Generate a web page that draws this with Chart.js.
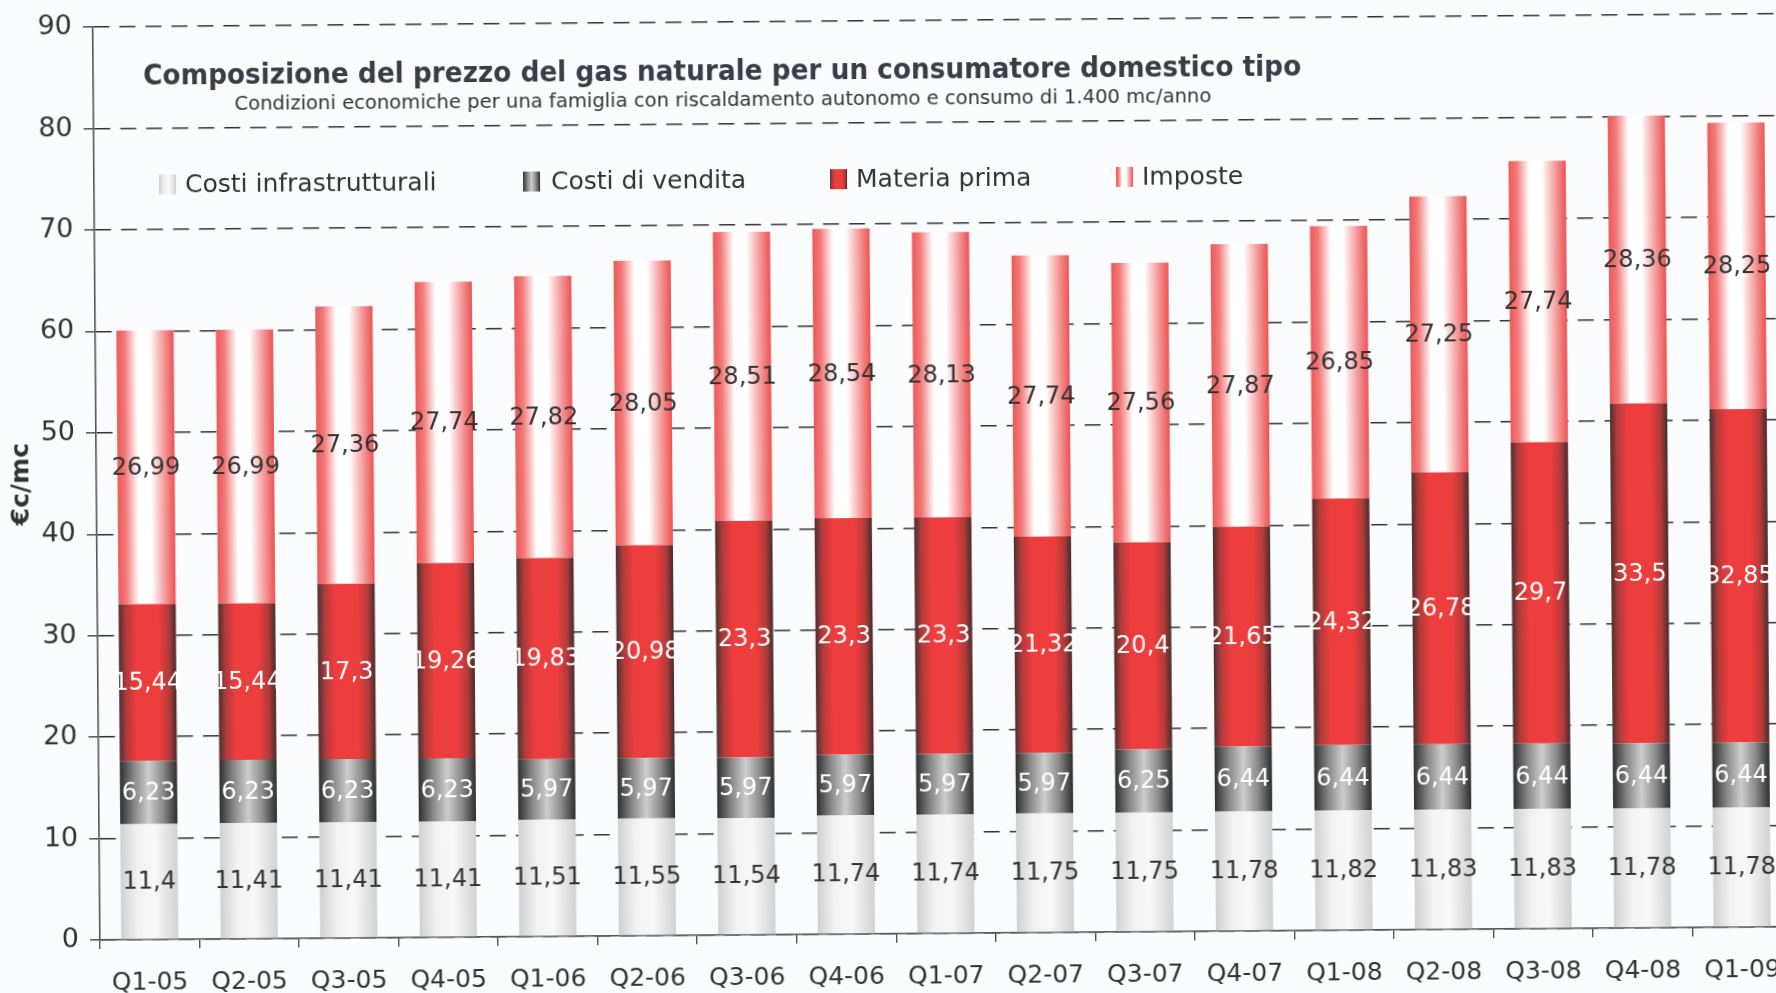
<!DOCTYPE html>
<html>
<head>
<meta charset="utf-8">
<script src="https://cdn.jsdelivr.net/npm/chart.js@4.4.1/dist/chart.umd.min.js"></script>
<style>
  html, body { margin: 0; padding: 0; width: 1776px; height: 993px; overflow: hidden; background: #fbfcfd; }
  /* the scan is slightly tilted */
  #wrap { position: absolute; left: 0; top: 0; width: 1800px; height: 993px;
          transform-origin: 100px 940px; transform: rotate(-0.45deg); }
</style>
</head>
<body>
<div id="wrap"><canvas id="gas" width="1800" height="993"></canvas></div>
<script>
const quarters = ['Q1-05','Q2-05','Q3-05','Q4-05','Q1-06','Q2-06','Q3-06','Q4-06','Q1-07',
                  'Q2-07','Q3-07','Q4-07','Q1-08','Q2-08','Q3-08','Q4-08','Q1-09'];
const costiInfrastrutturali = [11.4, 11.41, 11.41, 11.41, 11.51, 11.55, 11.54, 11.74, 11.74,
                               11.75, 11.75, 11.78, 11.82, 11.83, 11.83, 11.78, 11.78];
const costiVendita = [6.23, 6.23, 6.23, 6.23, 5.97, 5.97, 5.97, 5.97, 5.97,
                      5.97, 6.25, 6.44, 6.44, 6.44, 6.44, 6.44, 6.44];
const materiaPrima = [15.44, 15.44, 17.3, 19.26, 19.83, 20.98, 23.3, 23.3, 23.3,
                      21.32, 20.4, 21.65, 24.32, 26.78, 29.7, 33.5, 32.85];
const imposte = [26.99, 26.99, 27.36, 27.74, 27.82, 28.05, 28.51, 28.54, 28.13,
                 27.74, 27.56, 27.87, 26.85, 27.25, 27.74, 28.36, 28.25];
const yTicks = [0, 10, 20, 30, 40, 50, 60, 70, 80, 90];

const TITLE = 'Composizione del prezzo del gas naturale per un consumatore domestico tipo';
const SUBTITLE = 'Condizioni economiche per una famiglia con riscaldamento autonomo e consumo di 1.400 mc/anno';

const FONT = '"DejaVu Sans", Verdana, sans-serif';
const BAR_PCT = 0.575;

// horizontal "cylinder" shading for every series
const shades = {
    infra:   [[0, '#d0d0d0'], [0.3, '#f2f2f2'], [0.6, '#f8f8f8'], [1, '#d2d2d2']],
    vendita: [[0, '#303030'], [0.25, '#888888'], [0.5, '#cdcdcd'], [0.75, '#8c8c8c'], [1, '#2e2e2e']],
    materia: [[0, '#4a3030'], [0.12, '#b03a3a'], [0.3, '#ee3d3d'], [0.7, '#ee3d3d'], [0.88, '#b03a3a'], [1, '#452c2c']],
    imposte: [[0, '#ee5757'], [0.14, '#f27a7a'], [0.36, '#ffffff'], [0.58, '#ffffff'], [0.84, '#f49090'], [1, '#ec5252']]
};

function gradientAt(ctx, stops, x0, x1) {
    const g = ctx.createLinearGradient(x0, 0, x1, 0);
    stops.forEach(s => g.addColorStop(s[0], s[1]));
    return g;
}

function barShade(stops) {
    return function (c) {
        const chart = c.chart;
        const xs = chart.scales.x;
        if (!xs || !chart.chartArea || c.dataIndex === undefined) return stops[1][1];
        const half = (xs.width / quarters.length) * BAR_PCT / 2;
        const cx = xs.getPixelForValue(c.dataIndex);
        return gradientAt(chart.ctx, stops, cx - half, cx + half);
    };
}

const fmt = v => String(v).replace('.', ',');

const decorations = {
    id: 'decorations',
    afterDatasetsDraw(chart) {
        const ctx = chart.ctx;
        ctx.save();
        ctx.font = '24px ' + FONT;
        ctx.textAlign = 'center';
        ctx.textBaseline = 'middle';
        chart.data.datasets.forEach((ds, i) => {
            chart.getDatasetMeta(i).data.forEach((bar, j) => {
                ctx.fillStyle = ds.labelColor;
                ctx.fillText(fmt(ds.data[j]), bar.x, (bar.y + bar.base) / 2 + 1);
            });
        });
        ctx.restore();
    },
    afterDraw(chart) {
        const ctx = chart.ctx;
        ctx.save();
        ctx.textBaseline = 'middle';
        ctx.textAlign = 'left';

        // title + subtitle, squeezed to the width they take in the scan
        const fitted = (text, font, left, right, y, color) => {
            ctx.font = font;
            const w = ctx.measureText(text).width;
            ctx.save();
            ctx.translate(left, y);
            ctx.scale((right - left) / w, 1);
            ctx.fillStyle = color;
            ctx.fillText(text, 0, 0);
            ctx.restore();
        };
        fitted(TITLE, 'bold 29px ' + FONT, 150, 1308, 77, '#383d46');
        fitted(SUBTITLE, '20px ' + FONT, 241, 1218, 106, '#333');

        // legend
        ctx.font = '25px ' + FONT;
        const legendX = [[165, 191], [529, 557], [836, 862], [1122, 1148]];
        chart.data.datasets.forEach((ds, i) => {
            const [bx, tx] = legendX[i];
            ctx.fillStyle = gradientAt(ctx, ds.shade, bx, bx + 17);
            ctx.fillRect(bx, 175, 17, 20);
            ctx.fillStyle = '#333';
            ctx.fillText(ds.label, tx, 186);
        });
        ctx.restore();
    }
};

new Chart(document.getElementById('gas'), {
    type: 'bar',
    data: {
        labels: quarters,
        datasets: [
            { label: 'Costi infrastrutturali', data: costiInfrastrutturali, shade: shades.infra,
              backgroundColor: barShade(shades.infra), labelColor: '#333' },
            { label: 'Costi di vendita', data: costiVendita, shade: shades.vendita,
              backgroundColor: barShade(shades.vendita), labelColor: '#fff' },
            { label: 'Materia prima', data: materiaPrima, shade: shades.materia,
              backgroundColor: barShade(shades.materia), labelColor: '#fff' },
            { label: 'Imposte', data: imposte, shade: shades.imposte,
              backgroundColor: barShade(shades.imposte), labelColor: '#333' }
        ]
    },
    options: {
        responsive: false,
        animation: false,
        events: [],
        layout: { padding: { left: 0, top: 24, right: 8, bottom: 0 } },
        datasets: { bar: { barPercentage: BAR_PCT, categoryPercentage: 1 } },
        plugins: { legend: { display: false }, tooltip: { enabled: false } },
        scales: {
            x: {
                stacked: true,
                grid: { display: true, drawOnChartArea: false, tickLength: 9, color: '#555', lineWidth: 1.4 },
                border: { color: '#555', width: 1.6 },
                ticks: { color: '#333', font: { family: FONT, size: 25 }, padding: 19, maxRotation: 0 },
                afterFit: s => { s.height = 53; }
            },
            y: {
                stacked: true,
                min: 0,
                max: 90,
                afterBuildTicks: s => { s.ticks = yTicks.map(v => ({ value: v })); },
                grid: { color: '#333', lineWidth: 1.6, tickLength: 10, tickColor: '#444', tickWidth: 1.4 },
                border: { color: '#555', width: 1.6, dash: [16, 10] },
                ticks: { color: '#333', font: { family: FONT, size: 27 }, padding: 11 },
                title: { display: true, text: '€c/mc', color: '#333',
                         font: { family: FONT, size: 25, weight: 'bold' }, padding: { top: 10, bottom: 0 } },
                afterFit: s => { s.width = 100; }
            }
        }
    },
    plugins: [decorations]
});
</script>
</body>
</html>
